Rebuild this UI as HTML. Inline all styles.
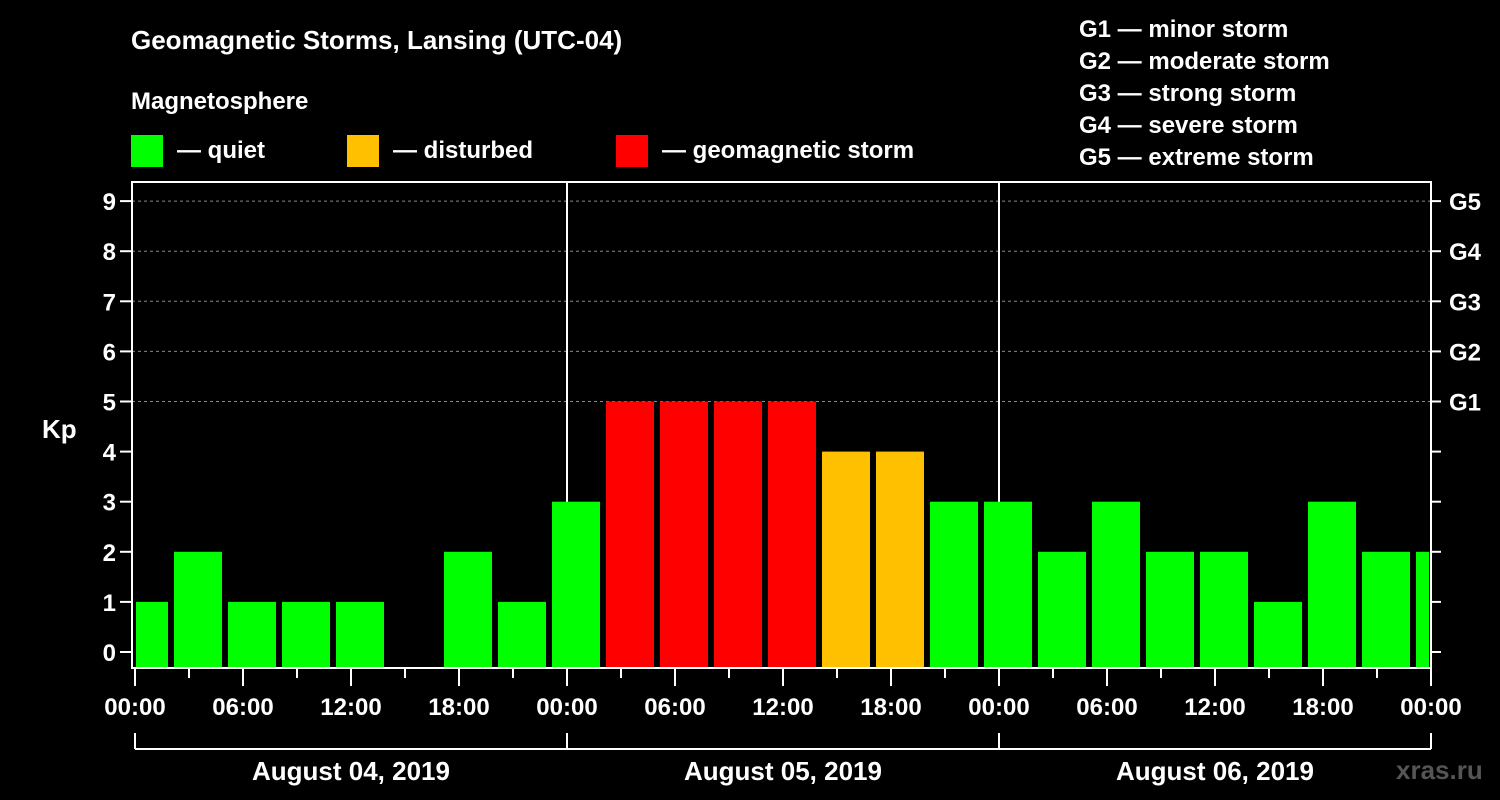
<!DOCTYPE html>
<html><head><meta charset="utf-8"><style>
html,body{margin:0;padding:0;background:#000;}
svg{display:block;font-family:"Liberation Sans",Arial,sans-serif;font-weight:bold;}
</style></head><body>
<svg id="chart" width="1500" height="800" viewBox="0 0 1500 800">
<rect width="1500" height="800" fill="#000"/>
<text x="131" y="49" fill="#fff" font-size="26">Geomagnetic Storms, Lansing (UTC-04)</text>
<text x="131" y="109" fill="#fff" font-size="24">Magnetosphere</text>
<g><rect x="131" y="135" width="32" height="32" fill="#00ff00"/><text x="177" y="158" fill="#fff" font-size="24">— quiet</text></g>
<g><rect x="347" y="135" width="32" height="32" fill="#ffc000"/><text x="393" y="158" fill="#fff" font-size="24">— disturbed</text></g>
<g><rect x="616" y="135" width="32" height="32" fill="#ff0000"/><text x="662" y="158" fill="#fff" font-size="24">— geomagnetic storm</text></g>
<g fill="#fff" font-size="24">
<text x="1079" y="37">G1 — minor storm</text>
<text x="1079" y="69">G2 — moderate storm</text>
<text x="1079" y="101">G3 — strong storm</text>
<text x="1079" y="133">G4 — severe storm</text>
<text x="1079" y="165">G5 — extreme storm</text>
</g>
<text x="42" y="438" fill="#fff" font-size="26">Kp</text>
<text x="1396" y="779" fill="#555" font-size="26">xras.ru</text>
<g id="grid"></g><g id="bars"></g><g id="axes"></g>
</svg>
<script>
const kpValues=[1,2,1,1,1,0,2,1,3,5,5,5,5,4,4,3,3,2,3,2,2,1,3,2,2];
const yTicks=[0,1,2,3,4,5,6,7,8,9];
const gLabels=["G1","G2","G3","G4","G5"];
const xTickLabels=["00:00","06:00","12:00","18:00","00:00","06:00","12:00","18:00","00:00","06:00","12:00","18:00","00:00"];
const dayLabels=["August 04, 2019","August 05, 2019","August 06, 2019"];
const NS="http://www.w3.org/2000/svg";
const L=132,R=1431,T=182,B=668,X0=135,pxH=18;
const x=h=>X0+h*pxH;
const y=v=>652-v*50.1;
function mk(tag,attrs,parent,txt){const e=document.createElementNS(NS,tag);for(const k in attrs)e.setAttribute(k,attrs[k]);if(txt!==undefined)e.textContent=txt;parent.appendChild(e);return e;}
const grid=document.getElementById('grid'),bars=document.getElementById('bars'),axes=document.getElementById('axes');
function color(v){return v>=5?"#ff0000":(v>=4?"#ffc000":"#00ff00");}
kpValues.forEach((v,i)=>{
 if(v<=0)return;
 const c=x(0.5+3*i);
 const x1=Math.max(c-24,L+4),x2=Math.min(c+24,R-2);
 const r=mk('rect',{x:x1,y:y(v),width:x2-x1,height:B-y(v),fill:color(v)},bars);
 
 
});
for(let v=5;v<=9;v++){
 const l=mk('line',{x1:L,x2:R,y1:y(v),y2:y(v),stroke:"#888","stroke-dasharray":"3,3","stroke-width":1},grid);
 
 
}
[1,2].forEach(d=>{const l=mk('line',{x1:x(24*d),x2:x(24*d),y1:T,y2:B,stroke:"#fff","stroke-width":2},grid);
 
 });
const box=mk('rect',{x:L,y:T,width:R-L,height:B-T,fill:"none",stroke:"#fff","stroke-width":2},axes);


yTicks.forEach(v=>{
 mk('line',{x1:L-12,x2:L,y1:y(v),y2:y(v),stroke:"#fff","stroke-width":2},axes);
 mk('line',{x1:R,x2:R+10,y1:y(v),y2:y(v),stroke:"#fff","stroke-width":2},axes);
 const t=mk('text',{x:L-16,y:y(v)+9,fill:"#fff","font-size":24,"text-anchor":"end"},axes,String(v));
 
 
});
gLabels.forEach((g,i)=>{const t=mk('text',{x:1449,y:y(5+i)+9,fill:"#fff","font-size":24},axes,g);
 
 });
for(let h=0;h<=72;h+=3){
 const major=h%6===0;
 mk('line',{x1:x(h),x2:x(h),y1:B,y2:B+(major?18:10),stroke:"#fff","stroke-width":2},axes);
}
xTickLabels.forEach((s,i)=>{const t=mk('text',{x:x(6*i),y:715,fill:"#fff","font-size":24,"text-anchor":"middle"},axes,s);
 
 });
mk('line',{x1:x(0),x2:x(72),y1:749,y2:749,stroke:"#fff","stroke-width":2},axes);
for(let d=0;d<=3;d++)mk('line',{x1:x(24*d),x2:x(24*d),y1:733,y2:749,stroke:"#fff","stroke-width":2},axes);
dayLabels.forEach((s,i)=>{const t=mk('text',{x:x(24*i+12),y:780,fill:"#fff","font-size":26,"text-anchor":"middle"},axes,s);
 
 });
</script>
</body></html>
